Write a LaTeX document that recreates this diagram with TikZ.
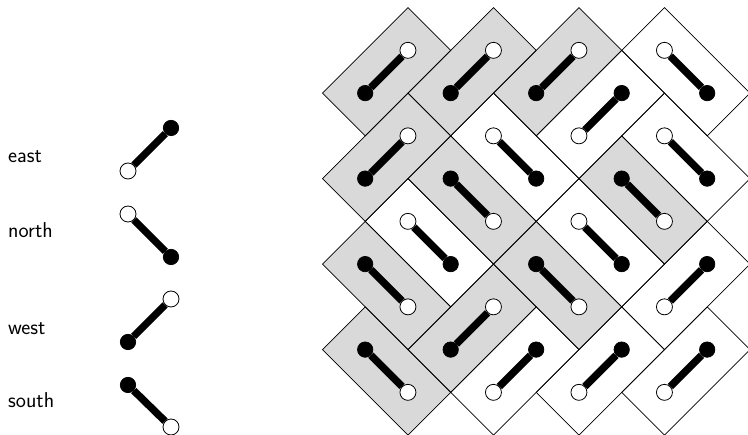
\documentclass[tikz,border=0pt]{standalone}
\usetikzlibrary{calc}
\definecolor{tilegray}{HTML}{D9D9D9}
\tikzset{
  tile/.style={draw=black,line width=0.7pt,line join=miter},
  blackdot/.style={circle,fill=black,draw=black,line width=0.7pt,minimum size=15.4pt,inner sep=0pt},
  whitedot/.style={circle,fill=white,draw=black,line width=0.8pt,minimum size=16pt,inner sep=0pt},
  bar/.style={line width=7.4pt,black},
  label/.style={anchor=base west,inner sep=0pt,font=\sffamily\fontsize{21.5pt}{24pt}\selectfont,text=black}
}
\newcommand{\tileshape}[5]{%
  % black i,j ; white i,j ; style
  \pgfmathsetmacro{\dx}{#3-#1}\pgfmathsetmacro{\dy}{#4-#2}
  \pgfmathsetmacro{\ax}{365.2+42.75*(#1-\dx/2-\dy/2)}\pgfmathsetmacro{\ay}{-7.6-42.75*(#2-\dy/2+\dx/2)}
  \pgfmathsetmacro{\bx}{365.2+42.75*(#1-\dx/2+\dy/2)}\pgfmathsetmacro{\by}{-7.6-42.75*(#2-\dy/2-\dx/2)}
  \pgfmathsetmacro{\cx}{365.2+42.75*(#3+\dx/2+\dy/2)}\pgfmathsetmacro{\cy}{-7.6-42.75*(#4+\dy/2-\dx/2)}
  \pgfmathsetmacro{\ex}{365.2+42.75*(#3+\dx/2-\dy/2)}\pgfmathsetmacro{\ey}{-7.6-42.75*(#4+\dy/2+\dx/2)}
  \path[#5] (\ax pt,\ay pt) -- (\bx pt,\by pt) -- (\cx pt,\cy pt) -- (\ex pt,\ey pt) -- cycle;
}
\begin{document}
\begin{tikzpicture}
\useasboundingbox (0,0) rectangle (748pt,-435pt);
% tile fills
\foreach \a/\b/\c/\d in {0/2/1/1,2/2/3/1,4/2/5/1,0/4/1/3,2/4/3/5,6/4/7/5,0/6/1/7,4/6/5/7,2/8/3/7,0/8/1/9}
  {\tileshape{\a}{\b}{\c}{\d}{fill=tilegray}}
% tile outlines
\foreach \a/\b/\c/\d in {0/2/1/1,2/2/3/1,4/2/5/1,0/4/1/3,2/4/3/5,6/4/7/5,0/6/1/7,4/6/5/7,2/8/3/7,0/8/1/9,
  8/2/7/1,4/4/3/3,6/2/5/3,8/4/7/3,2/6/1/5,6/6/5/5,8/6/7/7,4/8/3/9,6/8/5/9,8/8/7/9}
  {\tileshape{\a}{\b}{\c}{\d}{tile}}
% dimers on the tiles
\foreach \a/\b/\c/\d [count=\n] in {0/2/1/1,2/2/3/1,4/2/5/1,0/4/1/3,2/4/3/5,6/4/7/5,0/6/1/7,4/6/5/7,2/8/3/7,0/8/1/9,
  8/2/7/1,4/4/3/3,6/2/5/3,8/4/7/3,2/6/1/5,6/6/5/5,8/6/7/7,4/8/3/9,6/8/5/9,8/8/7/9}{
  \pgfmathsetmacro{\px}{365.2+42.75*\a}\pgfmathsetmacro{\py}{-7.6-42.75*\b}
  \pgfmathsetmacro{\qx}{365.2+42.75*\c}\pgfmathsetmacro{\qy}{-7.6-42.75*\d}
  \node[blackdot] (b\n) at (\px pt,\py pt) {};
  \node[whitedot] (w\n) at (\qx pt,\qy pt) {};
  \draw[bar] (b\n) -- (w\n);
}
% legend
\node[label] (east) at (8pt,-163pt) {east};
\node[blackdot] (eb) at (171pt,-128pt) {};
\node[whitedot] (ew) at (128pt,-171pt) {};
\draw[bar] (eb) -- (ew);
\node[label] (north) at (8pt,-238pt) {north};
\node[whitedot] (nw) at (128pt,-214pt) {};
\node[blackdot] (nb) at (171pt,-257pt) {};
\draw[bar] (nb) -- (nw);
\node[label] (west) at (8pt,-334.5pt) {west};
\node[whitedot] (ww) at (171pt,-299pt) {};
\node[blackdot] (wb) at (128pt,-342pt) {};
\draw[bar] (wb) -- (ww);
\node[label] (south) at (8pt,-408pt) {south};
\node[blackdot] (sb) at (128pt,-385pt) {};
\node[whitedot] (sw) at (171pt,-427pt) {};
\draw[bar] (sb) -- (sw);
\end{tikzpicture}
\end{document}
